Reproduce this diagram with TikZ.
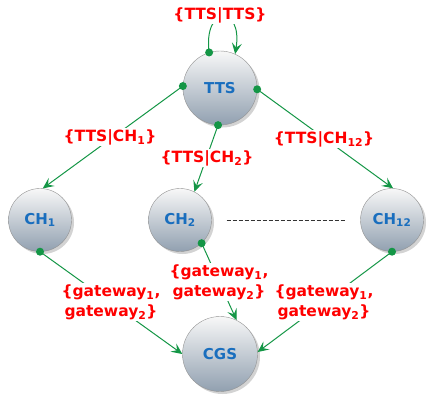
\documentclass[tikz,border=0pt]{standalone}
\usepackage{fontspec}
\setsansfont{DejaVu Sans}
\usetikzlibrary{arrows.meta}
\usetikzlibrary{shadows}
\definecolor{linkgreen}{RGB}{20,150,70}
\definecolor{labelred}{RGB}{255,0,0}
\definecolor{nodeblue}{RGB}{25,110,190}
\definecolor{ballbottom}{RGB}{145,160,176}
\tikzset{ball/.style={circle, draw=gray!85, thin, top color=white!94!gray, bottom color=ballbottom,
  drop shadow={opacity=0.35, shadow xshift=2.5pt, shadow yshift=-2.5pt},
  font=\sffamily\bfseries\fontsize{15}{18}\selectfont, text=nodeblue, inner sep=0pt, minimum size=#1},
%default size is the one of the cluster heads
ball/.default={63pt},
link/.style={linkgreen, line width=1pt, -{Stealth[length=11pt,width=10pt,inset=4.5pt]}},
dot/.style={circle, fill=linkgreen, inner sep=0pt, minimum size=8pt},
msg/.style={fill=white, text=labelred, font=\sffamily\bfseries\fontsize{15.5}{20}\selectfont, inner sep=1pt, align=center}}

\begin{document}
\begin{tikzpicture}[x=1pt,y=-1pt]
\useasboundingbox (0,0) rectangle (427,394);
% nodes
\node[ball=74pt] (tts) at (220,88) {TTS};
\node[ball] (ch1) at (40,220) {CH\textsubscript{1}};
\node[ball] (ch2) at (180,220) {CH\textsubscript{2}};
\node[ball] (ch12) at (392,220) {CH\textsubscript{12}};
\node[ball=75pt] (cgs) at (220,354) {CGS};

\draw[black!80, line width=0.9pt, dash pattern=on 4pt off 2pt] ([xshift=15pt]ch2.east) -- ([xshift=-15pt]ch12.west);

% sending dots
\node[dot] (ttsN) at (tts.107) {};
\node[dot] (ttsW) at (tts.177) {};
\node[dot] (ttsS) at (tts.267) {};
\node[dot] (ttsE) at (tts.358) {};
\node[dot] (ch1D) at (ch1.270) {};
\node[dot] (ch2D) at (ch2.313) {};
\node[dot] (ch12D) at (ch12.270) {};

% TTS to itself and to the cluster heads
\draw[link] (ttsN.center) .. controls (203,5) and (243,5) .. (tts.66);
\draw[link] (ttsW.center) -- (ch1.85);
\draw[link] (ttsS.center) -- (ch2.63);
\draw[link] (ttsE.center) -- (ch12.88);

%labels
\node[msg] (mTTS) at (220,15) {\{TTS|TTS\}};
\node[msg] (mCH1) at (110,137) {\{TTS|CH\textsubscript{1}\}};
\node[msg] (mCH2) at (207,158) {\{TTS|CH\textsubscript{2}\}};
\node[msg] (mCH12) at (324,139) {\{TTS|CH\textsubscript{12}\}};

% cluster heads to CGS
\foreach \src/\dst/\lx/\ly in {ch1D/cgs.180/111/302, ch2D/cgs.64/219/282, ch12D/cgs.3/324/302}
{
  \draw[link] (\src.center) -- (\dst);
  \node[msg] (g-\src) at (\lx,\ly) {\{gateway\textsubscript{1},\\gateway\textsubscript{2}\}};
}

\end{tikzpicture}
\end{document}
